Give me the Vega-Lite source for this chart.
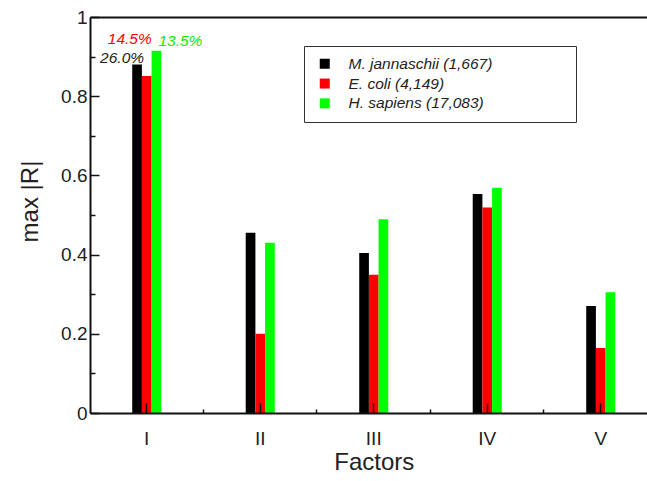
{
  "$schema": "https://vega.github.io/schema/vega-lite/v6.json",
  "width": 557,
  "height": 396,
  "autosize": {"type": "none"},
  "padding": {"left": 90, "top": 17, "right": 0, "bottom": 68},
  "background": "white",
  "config": {
    "view": {"stroke": null},
    "font": "Liberation Sans",
    "axis": {"labelFont": "Liberation Sans", "titleFont": "Liberation Sans", "labelColor": "#222", "titleColor": "#222", "titleFontWeight": "normal", "domainColor": "#111", "tickColor": "#111", "zindex": 1}
  },
  "data": {
    "values": [
      {"factor": "I", "species": "M. jannaschii (1,667)", "value": 0.880},
      {"factor": "I", "species": "E. coli (4,149)", "value": 0.851},
      {"factor": "I", "species": "H. sapiens (17,083)", "value": 0.915},
      {"factor": "II", "species": "M. jannaschii (1,667)", "value": 0.455},
      {"factor": "II", "species": "E. coli (4,149)", "value": 0.200},
      {"factor": "II", "species": "H. sapiens (17,083)", "value": 0.430},
      {"factor": "III", "species": "M. jannaschii (1,667)", "value": 0.404},
      {"factor": "III", "species": "E. coli (4,149)", "value": 0.349},
      {"factor": "III", "species": "H. sapiens (17,083)", "value": 0.489},
      {"factor": "IV", "species": "M. jannaschii (1,667)", "value": 0.553},
      {"factor": "IV", "species": "E. coli (4,149)", "value": 0.519},
      {"factor": "IV", "species": "H. sapiens (17,083)", "value": 0.569},
      {"factor": "V", "species": "M. jannaschii (1,667)", "value": 0.270},
      {"factor": "V", "species": "E. coli (4,149)", "value": 0.164},
      {"factor": "V", "species": "H. sapiens (17,083)", "value": 0.305}
    ]
  },
  "resolve": {"axis": {"x": "independent", "y": "independent"}},
  "layer": [
    {
      "mark": {"type": "bar"},
      "encoding": {
        "x": {
          "field": "factor", "type": "nominal",
          "scale": {"type": "band", "domain": ["I", "II", "III", "IV", "V"], "range": [0, 567.5], "paddingInner": 0.744, "paddingOuter": 0.372},
          "axis": {"orient": "bottom", "title": "Factors", "labelAngle": 0, "labelFontSize": 19, "titleFontSize": 24, "tickSize": -10, "tickWidth": 1.5, "labelPadding": 26, "titlePadding": 2, "domainWidth": 2, "grid": false, "zindex": 1}
        },
        "xOffset": {
          "field": "species", "type": "nominal",
          "scale": {"domain": ["M. jannaschii (1,667)", "E. coli (4,149)", "H. sapiens (17,083)"], "paddingInner": 0, "paddingOuter": 0}
        },
        "y": {
          "field": "value", "type": "quantitative",
          "scale": {"domain": [0, 1], "nice": false},
          "axis": {
            "title": "max |R|", "titleFontSize": 24, "labelFontSize": 19, "grid": false, "zindex": 1,
            "values": [0, 0.1, 0.2, 0.3, 0.4, 0.5, 0.6, 0.7, 0.8, 0.9, 1],
            "format": "~g",
            "labelExpr": "indexof([0, 0.2, 0.4, 0.6, 0.8, 1], datum.value) >= 0 ? datum.label : ''",
            "tickSize": {"condition": {"test": "indexof([0, 0.2, 0.4, 0.6, 0.8, 1], datum.value) < 0", "value": -5}, "value": -9},
            "tickWidth": 1.5,
            "labelPadding": 12,
            "titlePadding": 18,
            "titleY": 184,
            "domainWidth": 2
          }
        },
        "color": {
          "field": "species", "type": "nominal",
          "scale": {"domain": ["M. jannaschii (1,667)", "E. coli (4,149)", "H. sapiens (17,083)"], "range": ["#000000", "#ff0000", "#00ff00"]},
          "legend": {
            "title": "\u200b", "titleOrient": "right", "titlePadding": 74, "titleFontSize": 2,
            "orient": "none", "legendX": 214, "legendY": 29,
            "padding": 10, "strokeColor": "#333", "fillColor": "white",
            "symbolType": "square", "symbolSize": 100, "symbolStrokeWidth": 0, "symbolOffset": 3,
            "labelFont": "Liberation Sans", "labelFontSize": 15.5, "labelFontStyle": "italic", "labelColor": "#222",
            "labelOffset": 16, "rowPadding": 2.8, "labelLimit": 400
          }
        }
      }
    },
    {
      "mark": {"type": "bar", "opacity": 0},
      "encoding": {
        "x": {"field": "factor", "type": "nominal", "axis": {"orient": "bottom", "title": null, "labels": false, "domain": false, "bandPosition": 2.453, "tickSize": -4, "tickWidth": 1.5, "grid": false, "zindex": 1}},
        "xOffset": {"field": "species", "type": "nominal"},
        "y": {"field": "value", "type": "quantitative", "axis": null}
      }
    },
    {
      "mark": {"type": "bar", "opacity": 0},
      "encoding": {
        "x": {"field": "factor", "type": "nominal", "axis": {"orient": "top", "title": null, "labels": false, "ticks": false, "domain": true, "domainWidth": 2, "grid": false, "zindex": 1}},
        "xOffset": {"field": "species", "type": "nominal"},
        "y": {"field": "value", "type": "quantitative", "axis": null}
      }
    },
    {
      "transform": [{"filter": "datum.factor == 'I' && datum.species == 'M. jannaschii (1,667)'"}],
      "mark": {"type": "text", "text": "26.0%", "align": "right", "baseline": "alphabetic", "dx": 7, "dy": -2, "fontSize": 15.5, "fontStyle": "italic", "font": "Liberation Sans", "color": "#222"},
      "encoding": {
        "x": {"field": "factor", "type": "nominal", "axis": null},
        "xOffset": {"field": "species", "type": "nominal"},
        "y": {"field": "value", "type": "quantitative", "axis": null}
      }
    },
    {
      "transform": [{"filter": "datum.factor == 'I' && datum.species == 'E. coli (4,149)'"}],
      "mark": {"type": "text", "text": "14.5%", "align": "right", "baseline": "alphabetic", "dx": 5, "dy": -32, "fontSize": 15.5, "fontStyle": "italic", "font": "Liberation Sans", "color": "#ff0000"},
      "encoding": {
        "x": {"field": "factor", "type": "nominal", "axis": null},
        "xOffset": {"field": "species", "type": "nominal"},
        "y": {"field": "value", "type": "quantitative", "axis": null}
      }
    },
    {
      "transform": [{"filter": "datum.factor == 'I' && datum.species == 'H. sapiens (17,083)'"}],
      "mark": {"type": "text", "text": "13.5%", "align": "left", "baseline": "alphabetic", "dx": 2, "dy": -5, "fontSize": 15.5, "fontStyle": "italic", "font": "Liberation Sans", "color": "#00ee00"},
      "encoding": {
        "x": {"field": "factor", "type": "nominal", "axis": null},
        "xOffset": {"field": "species", "type": "nominal"},
        "y": {"field": "value", "type": "quantitative", "axis": null}
      }
    }
  ]
}
